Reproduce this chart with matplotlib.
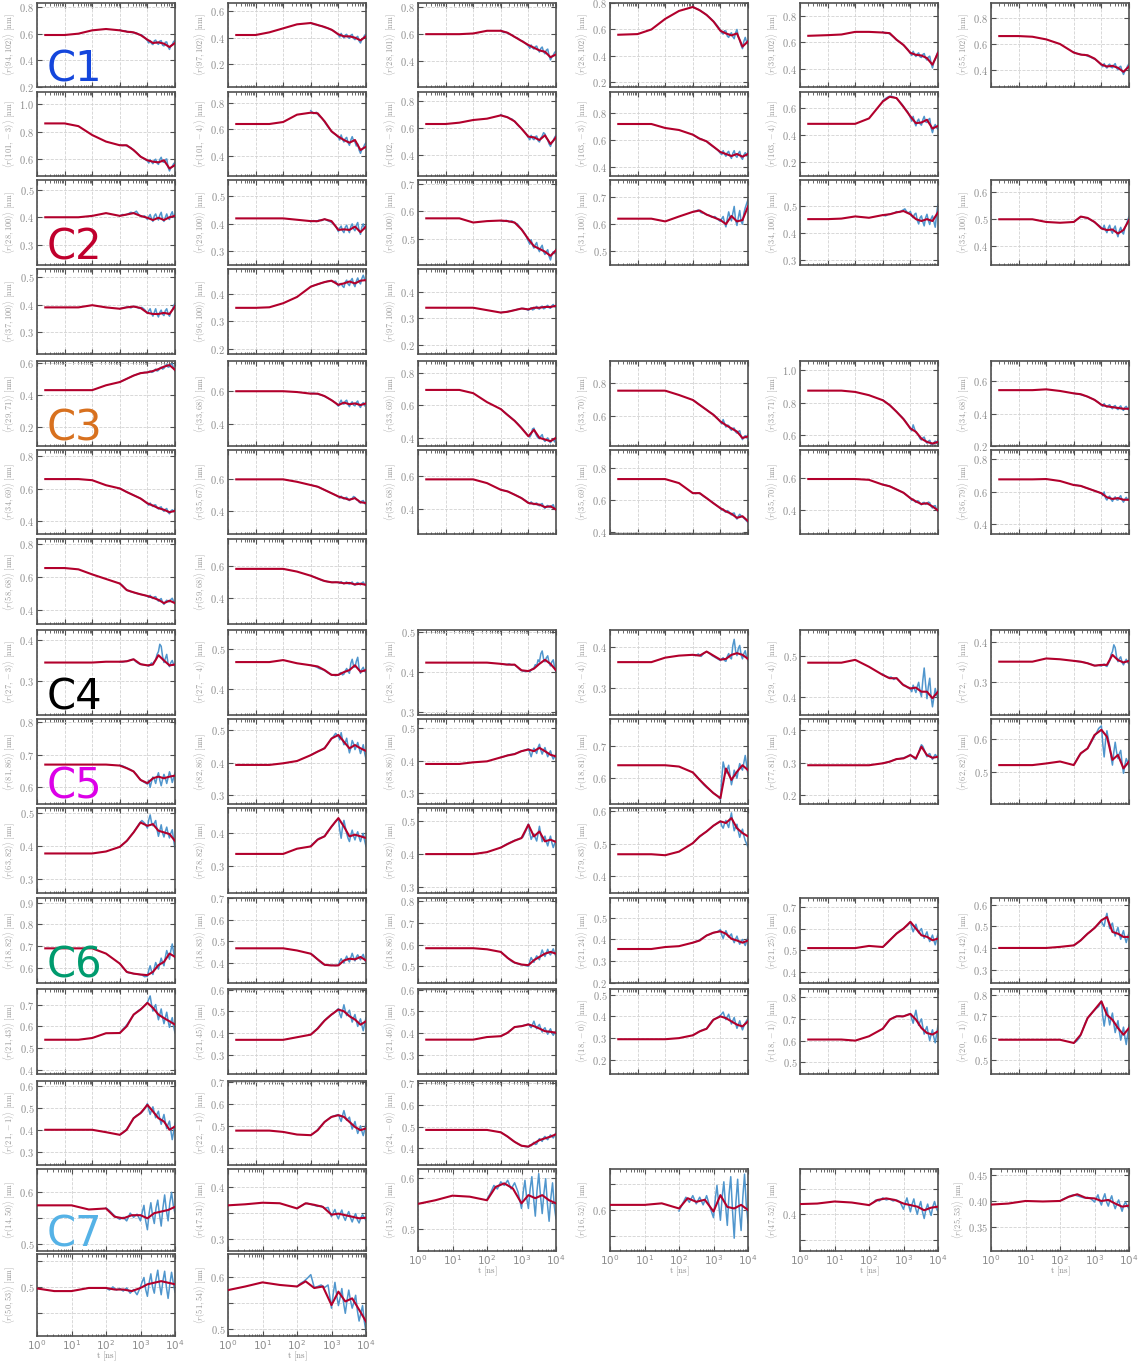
import numpy as np
import matplotlib
matplotlib.use('Agg')
import matplotlib.pyplot as plt
from matplotlib.ticker import LogLocator, MultipleLocator, FuncFormatter, NullFormatter

plt.rcParams['mathtext.fontset'] = 'cm'
plt.rcParams['font.family'] = 'DejaVu Sans'

# sample points, log10(t / ns)
LOGT_MEAN = [-0.7, 0, 0.5, 1, 1.5, 2, 2.25, 2.5, 2.75, 3, 3.2, 3.4, 3.6, 3.8, 4.0]
LOGT_RAW = [2.0, 2.1, 2.2, 2.3, 2.4, 2.5, 2.6, 2.7, 2.8, 2.9,
            3.0, 3.05, 3.1, 3.15, 3.2, 3.25, 3.3, 3.35, 3.4, 3.45, 3.5,
            3.55, 3.6, 3.65, 3.7, 3.75, 3.8, 3.85, 3.9, 3.95, 4.0]

# all distances in 1e-3 nm
# ---- C1 ----
C1_PAIRS = ['94,102', '97,102', '28,101', '28,102', '39,102', '55,102',
            '101,-3', '101,-4', '102,-3', '103,-3', '103,-4']
C1_YLIM = [(200, 830), (30, 660), (210, 830), (165, 800), (260, 900), (275, 910),
           (475, 1090), (250, 880), (240, 870), (330, 960), (100, 720)]
C1_MEAN = [
    [590, 590, 600, 625, 635, 625, 615, 610, 590, 555, 530, 535, 525, 500, 530],
    [420, 420, 440, 470, 500, 510, 495, 480, 460, 425, 410, 410, 400, 380, 410],
    [600, 600, 600, 605, 625, 625, 610, 580, 550, 520, 500, 480, 470, 430, 450],
    [560, 565, 600, 680, 740, 770, 745, 710, 660, 590, 570, 555, 570, 470, 510],
    [650, 655, 660, 680, 680, 675, 670, 620, 580, 520, 505, 500, 480, 430, 520],
    [660, 660, 655, 635, 600, 535, 520, 515, 490, 445, 430, 435, 420, 390, 430],
    [860, 860, 840, 775, 727, 700, 700, 665, 617, 590, 580, 575, 590, 530, 555],
    [640, 640, 640, 655, 710, 725, 720, 660, 585, 545, 520, 500, 520, 445, 470],
    [630, 630, 640, 660, 670, 695, 680, 650, 595, 535, 530, 510, 545, 480, 530],
    [720, 720, 720, 690, 675, 640, 610, 590, 550, 510, 495, 480, 495, 475, 495],
    [485, 485, 485, 485, 525, 650, 685, 675, 610, 540, 490, 495, 515, 450, 470],
]
C1_RAW = [
    [628, 620, 622, 610, 616, 605, 606, 592, 590, 570, 548, 530, 548, 526, 518, 546, 552, 528, 520, 544, 548, 514, 508, 536, 538, 502, 482, 508, 518, 541, 548],
    [512, 500, 498, 490, 488, 476, 474, 462, 455, 440, 420, 405, 432, 410, 398, 420, 425, 402, 395, 418, 425, 395, 385, 402, 410, 375, 360, 385, 395, 418, 425],
    [628, 612, 614, 600, 595, 578, 572, 555, 548, 530, 512, 495, 520, 500, 490, 508, 512, 485, 468, 495, 505, 470, 455, 482, 490, 440, 410, 432, 445, 465, 475],
    [772, 760, 752, 738, 725, 708, 692, 672, 650, 625, 595, 575, 565, 590, 588, 550, 540, 565, 575, 545, 530, 575, 600, 545, 520, 480, 455, 510, 540, 505, 490],
    [680, 668, 672, 655, 640, 618, 605, 588, 570, 548, 515, 500, 532, 508, 492, 512, 520, 490, 485, 508, 515, 480, 465, 488, 495, 440, 405, 450, 470, 505, 530],
    [540, 528, 525, 518, 520, 508, 502, 490, 482, 462, 440, 428, 452, 430, 418, 440, 448, 425, 420, 440, 452, 418, 405, 425, 432, 395, 370, 395, 410, 435, 450],
    [702, 698, 700, 690, 682, 662, 648, 628, 610, 598, 585, 570, 595, 578, 565, 590, 598, 570, 560, 595, 612, 580, 575, 595, 600, 540, 512, 535, 545, 565, 575],
    [740, 718, 728, 700, 685, 655, 625, 598, 575, 560, 540, 520, 558, 525, 505, 530, 540, 500, 480, 520, 545, 515, 505, 475, 490, 445, 420, 448, 460, 485, 500],
    [700, 688, 685, 672, 668, 648, 625, 605, 585, 560, 528, 512, 545, 522, 512, 535, 540, 505, 495, 525, 540, 565, 555, 525, 510, 480, 462, 490, 500, 530, 545],
    [642, 628, 612, 608, 598, 588, 570, 555, 540, 525, 500, 490, 520, 495, 478, 505, 515, 480, 462, 500, 520, 482, 470, 500, 515, 470, 455, 488, 505, 480, 515],
    [655, 672, 685, 690, 682, 672, 650, 628, 598, 575, 530, 505, 540, 495, 470, 505, 520, 485, 475, 515, 540, 500, 495, 515, 525, 455, 420, 462, 480, 455, 445],
]

# ---- C2 ----
C2_PAIRS = ['28,100', '29,100', '30,100', '31,100', '34,100', '35,100',
            '37,100', '96,100', '97,100']
C2_YLIM = [(227, 535), (250, 560), (407, 713), (450, 762), (280, 595), (330, 646),
           (220, 530), (180, 493), (168, 484)]
C2_MEAN = [
    [400, 400, 400, 405, 415, 405, 410, 415, 405, 398, 390, 398, 390, 400, 405],
    [420, 420, 420, 420, 415, 410, 410, 417, 410, 378, 380, 378, 390, 370, 390],
    [575, 575, 575, 560, 565, 567, 565, 560, 535, 500, 475, 465, 455, 440, 460],
    [620, 620, 620, 610, 628, 645, 650, 635, 625, 615, 600, 630, 610, 615, 665],
    [450, 450, 452, 460, 455, 465, 468, 475, 480, 468, 450, 443, 450, 443, 475],
    [500, 500, 500, 490, 487, 490, 510, 505, 490, 466, 460, 462, 447, 460, 497],
    [390, 390, 390, 398, 390, 385, 390, 393, 388, 370, 366, 366, 370, 366, 394],
    [350, 350, 352, 367, 390, 428, 437, 445, 450, 435, 440, 447, 440, 450, 452],
    [340, 340, 340, 340, 331, 322, 325, 331, 337, 334, 340, 340, 343, 343, 347],
]
C2_RAW = [
    [405, 410, 408, 412, 418, 415, 422, 408, 402, 405, 392, 402, 410, 395, 385, 405, 412, 398, 390, 408, 418, 392, 385, 400, 412, 396, 392, 410, 420, 400, 410],
    [408, 412, 408, 414, 412, 418, 412, 408, 402, 392, 372, 385, 392, 375, 368, 388, 395, 378, 368, 390, 400, 382, 375, 395, 405, 375, 362, 388, 400, 382, 395],
    [566, 564, 568, 562, 566, 558, 555, 542, 530, 515, 492, 482, 498, 478, 468, 480, 488, 465, 455, 470, 478, 455, 445, 455, 462, 438, 425, 445, 455, 448, 465],
    [645, 648, 652, 642, 640, 635, 632, 625, 628, 618, 610, 620, 628, 605, 590, 620, 645, 625, 612, 640, 665, 615, 595, 625, 650, 610, 600, 640, 660, 675, 690],
    [465, 462, 468, 470, 472, 478, 475, 482, 488, 472, 478, 462, 455, 468, 472, 445, 432, 455, 462, 440, 425, 455, 468, 445, 430, 452, 462, 440, 420, 470, 505],
    [490, 498, 505, 510, 506, 504, 498, 492, 485, 478, 470, 462, 478, 460, 450, 468, 478, 458, 448, 465, 475, 450, 435, 458, 470, 452, 445, 468, 480, 495, 510],
    [385, 388, 390, 392, 388, 394, 392, 386, 390, 382, 368, 378, 385, 368, 358, 372, 385, 365, 355, 372, 380, 365, 360, 378, 385, 366, 358, 372, 380, 395, 405],
    [428, 432, 435, 438, 442, 444, 448, 450, 446, 448, 430, 438, 440, 430, 425, 445, 452, 438, 432, 450, 458, 438, 428, 448, 460, 445, 438, 458, 470, 455, 448],
    [322, 324, 325, 327, 329, 331, 334, 336, 338, 336, 330, 336, 340, 332, 334, 340, 345, 337, 335, 343, 346, 336, 338, 345, 349, 340, 338, 347, 352, 344, 342],
]

# ---- C3 ----
C3_PAIRS = ['29,71', '33,68', '33,69', '33,70', '33,71', '34,68',
            '34,69', '35,67', '35,68', '35,69', '35,70', '36,79',
            '58,68', '59,68']
C3_YLIM = [(85, 610), (263, 786), (350, 873), (410, 940), (535, 1057), (200, 725),
           (320, 840), (260, 775), (245, 760), (390, 910), (254, 775), (340, 855),
           (312, 833), (235, 767)]
C3_MEAN = [
    [430, 430, 430, 430, 460, 480, 500, 520, 535, 540, 548, 560, 575, 585, 555],
    [600, 600, 600, 600, 595, 585, 585, 570, 545, 515, 530, 520, 525, 515, 525],
    [695, 695, 695, 675, 620, 577, 540, 505, 460, 410, 450, 400, 390, 380, 400],
    [755, 755, 755, 755, 728, 697, 666, 635, 604, 563, 540, 520, 500, 460, 470],
    [875, 875, 875, 867, 847, 816, 786, 745, 700, 643, 622, 580, 560, 550, 560],
    [545, 545, 545, 550, 540, 525, 520, 505, 485, 455, 445, 440, 435, 430, 430],
    [660, 660, 660, 653, 622, 602, 580, 560, 540, 510, 496, 480, 470, 455, 463],
    [595, 595, 595, 595, 580, 560, 550, 530, 510, 490, 480, 470, 480, 455, 450],
    [580, 580, 580, 580, 557, 516, 506, 486, 465, 435, 430, 425, 410, 415, 395],
    [730, 730, 730, 730, 705, 643, 643, 612, 580, 550, 530, 515, 490, 500, 470],
    [595, 595, 595, 595, 590, 560, 550, 530, 510, 476, 456, 440, 445, 425, 400],
    [675, 675, 675, 677, 665, 640, 635, 620, 605, 590, 565, 555, 560, 550, 550],
    [655, 655, 647, 616, 588, 560, 520, 506, 494, 484, 473, 460, 440, 455, 440],
    [580, 580, 580, 580, 563, 537, 520, 504, 496, 496, 490, 492, 483, 487, 480],
]
C3_RAW = [
    [480, 488, 496, 504, 512, 520, 526, 532, 536, 540, 538, 545, 548, 540, 542, 552, 560, 548, 552, 565, 572, 560, 565, 580, 590, 572, 575, 590, 592, 565, 548],
    [586, 588, 584, 580, 576, 568, 560, 550, 540, 528, 508, 530, 545, 525, 520, 538, 545, 518, 505, 525, 535, 515, 510, 530, 540, 512, 500, 520, 530, 510, 535],
    [578, 562, 548, 535, 520, 505, 490, 472, 452, 432, 412, 405, 420, 455, 460, 430, 412, 400, 395, 410, 420, 390, 378, 392, 400, 380, 370, 385, 392, 375, 410],
    [698, 686, 672, 660, 648, 636, 622, 612, 598, 582, 560, 548, 575, 550, 528, 540, 538, 518, 508, 520, 522, 498, 490, 500, 505, 468, 450, 465, 475, 460, 485],
    [818, 805, 792, 778, 762, 745, 728, 712, 692, 668, 640, 628, 665, 640, 618, 610, 598, 580, 572, 585, 590, 565, 552, 565, 570, 548, 540, 555, 565, 550, 575],
    [525, 522, 520, 514, 510, 504, 496, 490, 480, 468, 452, 445, 462, 448, 440, 450, 455, 438, 430, 445, 450, 432, 425, 440, 448, 428, 420, 438, 445, 430, 420],
    [602, 594, 584, 576, 568, 560, 552, 544, 535, 522, 508, 498, 512, 498, 490, 500, 500, 482, 475, 485, 488, 470, 460, 472, 478, 455, 445, 462, 470, 458, 475],
    [560, 556, 552, 546, 538, 530, 522, 514, 506, 498, 488, 480, 492, 480, 475, 482, 485, 470, 465, 475, 478, 490, 485, 470, 468, 455, 450, 462, 465, 448, 440],
    [518, 512, 508, 502, 494, 486, 478, 470, 460, 450, 438, 430, 442, 432, 425, 432, 435, 422, 418, 428, 432, 412, 402, 415, 420, 410, 408, 418, 425, 400, 390],
    [645, 640, 645, 635, 622, 612, 600, 588, 575, 562, 548, 538, 545, 530, 525, 535, 530, 515, 508, 518, 520, 495, 482, 500, 512, 502, 495, 488, 480, 470, 462],
    [562, 558, 552, 546, 538, 530, 522, 514, 504, 490, 475, 462, 470, 458, 450, 460, 458, 442, 435, 448, 450, 438, 440, 452, 448, 425, 415, 428, 430, 405, 392],
    [642, 640, 636, 632, 625, 620, 614, 608, 602, 596, 588, 575, 598, 560, 548, 565, 572, 552, 540, 558, 568, 550, 548, 565, 575, 548, 535, 552, 565, 550, 545],
    [560, 548, 528, 516, 510, 506, 500, 496, 492, 488, 482, 475, 488, 475, 468, 478, 480, 462, 452, 462, 468, 445, 432, 448, 458, 450, 448, 462, 470, 450, 435],
    [538, 530, 524, 516, 508, 504, 500, 497, 495, 498, 494, 490, 500, 492, 486, 494, 498, 488, 485, 492, 498, 482, 478, 490, 495, 485, 480, 492, 498, 482, 475],
]

# ---- C4 ----
C4_PAIRS = ['27,-3', '27,-4', '28,-3', '28,-4', '29,-4', '72,-4']
C4_YLIM = [(216, 425), (336, 548), (293, 504), (234, 443), (355, 563), (217, 429)]
C4_MEAN = [
    [345, 345, 345, 345, 347, 347, 348, 353, 341, 338, 340, 363, 350, 338, 340],
    [468, 468, 468, 473, 465, 460, 457, 448, 436, 436, 443, 448, 460, 444, 448],
    [423, 423, 423, 423, 423, 420, 418, 418, 404, 402, 408, 420, 430, 420, 404],
    [364, 364, 364, 375, 380, 382, 380, 390, 380, 370, 372, 382, 386, 382, 372],
    [483, 483, 483, 490, 473, 453, 445, 445, 428, 420, 422, 412, 412, 396, 412],
    [350, 350, 350, 358, 356, 352, 350, 346, 340, 342, 342, 367, 354, 348, 352],
]
C4_RAW = [
    [347, 346, 348, 349, 352, 353, 346, 342, 340, 339, 338, 336, 340, 344, 342, 348, 352, 365, 372, 390, 385, 360, 345, 355, 365, 342, 335, 345, 350, 340, 336],
    [460, 458, 456, 452, 450, 447, 442, 438, 436, 434, 436, 440, 442, 436, 438, 446, 452, 444, 440, 465, 475, 458, 455, 470, 480, 452, 440, 450, 455, 445, 442],
    [420, 419, 418, 420, 417, 418, 412, 405, 402, 401, 403, 400, 405, 408, 410, 418, 415, 430, 425, 445, 452, 432, 425, 435, 440, 422, 415, 425, 430, 410, 400],
    [382, 380, 384, 378, 386, 390, 386, 380, 376, 372, 368, 372, 375, 368, 366, 378, 385, 375, 372, 405, 420, 392, 380, 398, 405, 382, 372, 385, 392, 375, 368],
    [455, 450, 446, 448, 442, 446, 438, 430, 428, 422, 418, 412, 428, 418, 410, 425, 435, 412, 400, 440, 470, 430, 395, 425, 445, 400, 375, 398, 420, 405, 395],
    [352, 351, 350, 349, 348, 346, 344, 342, 340, 341, 339, 342, 344, 340, 338, 345, 352, 368, 375, 392, 385, 362, 350, 358, 362, 348, 342, 350, 356, 348, 345],
]

# ---- C5 ----
C5_PAIRS = ['81,86', '82,86', '83,86', '18,81', '77,81', '62,82',
            '63,82', '78,82', '79,82', '79,83']
C5_YLIM = [(549, 810), (273, 534), (268, 527), (521, 782), (173, 434), (401, 661),
           (258, 516), (217, 478), (281, 541), (349, 610)]
C5_MEAN = [
    [670, 670, 670, 670, 670, 667, 659, 649, 623, 613, 628, 633, 628, 633, 636],
    [393, 393, 393, 398, 405, 423, 434, 444, 474, 485, 464, 444, 454, 444, 436],
    [390, 390, 390, 395, 398, 410, 416, 420, 429, 434, 429, 439, 429, 418, 413],
    [640, 640, 640, 640, 636, 618, 595, 574, 554, 539, 630, 595, 620, 640, 625],
    [292, 292, 292, 292, 292, 298, 303, 311, 313, 323, 313, 349, 323, 315, 318],
    [520, 520, 520, 525, 531, 520, 556, 571, 612, 628, 607, 536, 551, 510, 531],
    [378, 378, 378, 378, 384, 398, 416, 442, 472, 462, 467, 447, 442, 437, 416],
    [337, 337, 337, 337, 353, 360, 381, 391, 421, 447, 421, 391, 396, 391, 386],
    [400, 400, 400, 400, 406, 420, 431, 441, 449, 490, 454, 469, 439, 444, 437],
    [468, 468, 468, 465, 476, 502, 523, 538, 556, 569, 564, 579, 548, 533, 523],
]
C5_RAW = [
    [668, 666, 662, 658, 654, 648, 640, 628, 620, 615, 610, 622, 600, 618, 632, 625, 612, 632, 645, 622, 605, 625, 640, 628, 612, 630, 648, 635, 615, 630, 645],
    [423, 428, 432, 436, 440, 446, 455, 468, 478, 490, 480, 470, 492, 470, 455, 462, 475, 450, 430, 445, 468, 458, 440, 450, 462, 445, 428, 440, 455, 430, 412],
    [410, 412, 415, 418, 419, 421, 424, 428, 430, 433, 436, 425, 412, 428, 438, 430, 422, 440, 450, 432, 420, 432, 440, 425, 412, 422, 430, 415, 405, 412, 420],
    [618, 610, 600, 590, 580, 572, 565, 558, 552, 545, 535, 600, 650, 632, 615, 628, 640, 608, 580, 600, 625, 612, 600, 625, 645, 632, 625, 648, 670, 640, 610],
    [298, 300, 302, 305, 308, 311, 312, 314, 316, 320, 325, 320, 318, 312, 310, 322, 330, 345, 355, 350, 340, 328, 318, 325, 328, 318, 310, 318, 325, 320, 315],
    [522, 535, 550, 558, 565, 572, 585, 600, 615, 632, 640, 585, 545, 595, 625, 600, 580, 545, 520, 560, 590, 560, 540, 555, 565, 525, 495, 520, 540, 530, 515],
    [398, 405, 412, 420, 432, 442, 455, 468, 478, 470, 455, 480, 495, 472, 462, 470, 478, 450, 430, 448, 465, 440, 428, 445, 458, 438, 425, 440, 450, 420, 392],
    [362, 370, 378, 385, 388, 392, 405, 415, 425, 438, 445, 410, 385, 420, 440, 420, 400, 385, 375, 395, 410, 392, 380, 395, 405, 388, 375, 390, 400, 378, 360],
    [420, 425, 430, 434, 438, 442, 445, 448, 452, 470, 492, 465, 445, 455, 462, 450, 440, 462, 485, 460, 438, 448, 455, 438, 425, 442, 455, 435, 420, 432, 440],
    [502, 510, 518, 525, 532, 538, 545, 552, 558, 565, 570, 555, 548, 562, 572, 560, 550, 575, 595, 565, 540, 552, 560, 538, 520, 535, 545, 525, 510, 500, 490],
]

# ---- C6 ----
C6_PAIRS = ['18,82', '18,83', '18,86', '21,24', '21,25', '21,42',
            '21,43', '21,45', '21,46', '18,-0', '18,-1', '20,-1',
            '21,-1', '22,-1', '24,-0']
C6_YLIM = [(531, 921), (308, 700), (423, 814), (200, 590), (349, 741), (238, 631),
           (380, 772), (210, 603), (212, 603), (135, 526), (446, 838), (434, 826),
           (239, 623), (320, 706), (323, 711)]
C6_MEAN = [
    [690, 690, 690, 690, 666, 620, 582, 574, 570, 567, 582, 613, 628, 666, 651],
    [468, 468, 468, 468, 458, 443, 417, 392, 389, 389, 412, 420, 417, 428, 412],
    [583, 583, 583, 583, 578, 566, 538, 517, 508, 505, 528, 543, 558, 566, 558],
    [356, 356, 356, 365, 369, 385, 395, 418, 431, 437, 426, 403, 395, 385, 395],
    [510, 510, 510, 510, 520, 515, 546, 577, 600, 631, 600, 569, 562, 546, 554],
    [400, 400, 400, 400, 405, 412, 435, 466, 492, 528, 543, 474, 466, 451, 451],
    [538, 538, 538, 546, 568, 569, 600, 654, 677, 708, 685, 654, 638, 623, 608],
    [368, 368, 368, 368, 380, 392, 420, 457, 485, 508, 500, 477, 462, 438, 454],
    [370, 370, 370, 370, 382, 386, 402, 428, 432, 440, 432, 421, 409, 406, 402],
    [295, 295, 295, 295, 300, 313, 331, 343, 385, 400, 392, 377, 362, 354, 377],
    [605, 605, 605, 600, 620, 655, 697, 712, 712, 723, 697, 658, 635, 628, 643],
    [592, 592, 592, 592, 592, 577, 615, 692, 730, 769, 707, 684, 646, 615, 646],
    [400, 400, 400, 400, 389, 377, 400, 453, 476, 514, 484, 453, 438, 400, 415],
    [478, 478, 478, 472, 460, 457, 480, 518, 541, 549, 541, 518, 495, 480, 488],
    [485, 485, 485, 485, 485, 474, 454, 430, 412, 408, 423, 438, 446, 454, 465],
]
C6_RAW = [
    [620, 604, 590, 578, 576, 574, 572, 570, 568, 560, 562, 590, 610, 585, 570, 600, 625, 608, 595, 620, 645, 625, 610, 650, 680, 660, 640, 680, 710, 670, 640],
    [443, 435, 422, 410, 398, 392, 390, 389, 390, 388, 392, 408, 420, 408, 400, 418, 432, 415, 405, 425, 445, 425, 410, 428, 438, 425, 415, 430, 440, 418, 400],
    [566, 555, 545, 532, 522, 516, 512, 508, 506, 504, 500, 522, 540, 528, 518, 535, 548, 538, 530, 555, 575, 558, 545, 562, 578, 560, 552, 568, 580, 560, 545],
    [385, 390, 394, 402, 410, 418, 422, 428, 432, 436, 445, 420, 405, 425, 440, 425, 410, 418, 425, 400, 385, 402, 415, 395, 378, 392, 400, 385, 372, 392, 410],
    [515, 525, 538, 552, 565, 578, 588, 596, 605, 615, 632, 605, 585, 602, 620, 598, 580, 592, 600, 575, 555, 572, 585, 558, 540, 555, 570, 545, 525, 552, 575],
    [412, 420, 430, 442, 455, 466, 475, 488, 498, 510, 525, 510, 500, 535, 560, 520, 490, 505, 515, 480, 455, 478, 495, 465, 440, 462, 480, 448, 425, 450, 470],
    [570, 585, 598, 615, 635, 652, 665, 675, 682, 695, 710, 725, 740, 700, 670, 688, 700, 660, 630, 655, 680, 640, 612, 640, 665, 625, 595, 620, 640, 600, 570],
    [392, 405, 415, 430, 445, 458, 470, 480, 488, 500, 512, 488, 470, 502, 530, 502, 480, 495, 505, 475, 450, 470, 485, 455, 430, 450, 465, 435, 410, 442, 470],
    [386, 392, 398, 408, 418, 428, 430, 432, 434, 438, 442, 432, 425, 440, 455, 435, 420, 432, 440, 420, 405, 418, 425, 408, 395, 410, 420, 402, 390, 402, 410],
    [313, 320, 328, 335, 340, 344, 362, 380, 388, 395, 405, 412, 420, 400, 385, 398, 410, 385, 365, 380, 395, 368, 345, 362, 380, 355, 338, 355, 370, 380, 390],
    [655, 670, 688, 700, 708, 712, 715, 710, 715, 720, 725, 700, 680, 712, 740, 702, 670, 688, 700, 662, 630, 650, 665, 630, 600, 628, 650, 615, 590, 630, 670],
    [577, 585, 600, 630, 665, 692, 708, 722, 735, 745, 770, 700, 655, 700, 740, 698, 660, 690, 715, 665, 625, 655, 680, 630, 590, 620, 650, 605, 570, 615, 660],
    [377, 385, 395, 412, 432, 452, 465, 472, 480, 495, 520, 492, 470, 490, 505, 478, 455, 472, 485, 450, 425, 448, 470, 435, 405, 425, 440, 395, 355, 392, 430],
    [457, 465, 475, 490, 505, 518, 528, 538, 544, 548, 552, 535, 520, 548, 570, 545, 525, 532, 540, 510, 485, 502, 520, 490, 465, 482, 500, 475, 455, 482, 510],
    [474, 466, 458, 448, 438, 430, 422, 415, 410, 408, 406, 415, 412, 420, 428, 418, 420, 435, 445, 438, 432, 448, 455, 445, 440, 452, 462, 455, 448, 460, 472],
]

# ---- C7 ----
C7_PAIRS = ['14,50', '47,51', '15,52', '16,52', '47,52', '25,53', '50,53', '51,54']
C7_YLIM = [(487, 645), (276, 434), (457, 617), (520, 680), (329, 488), (303, 462),
           (406, 563), (486, 645)]
C7_DEC = [1, 1, 1, 1, 1, 2, 1, 1]
C7_MEAN = [
    [575, 575, 575, 575, 567, 569, 553, 550, 556, 556, 550, 560, 563, 566, 572],
    [364, 364, 366, 369, 368, 358, 368, 365, 361, 346, 348, 345, 342, 339, 340],
    [549, 549, 556, 565, 563, 556, 582, 589, 579, 550, 566, 560, 566, 556, 550],
    [610, 610, 610, 610, 613, 603, 623, 616, 620, 597, 629, 606, 603, 610, 600],
    [420, 420, 421, 425, 423, 418, 428, 431, 428, 421, 418, 415, 408, 413, 415],
    [393, 393, 395, 400, 399, 400, 408, 413, 406, 405, 400, 402, 395, 389, 391],
    [497, 497, 492, 492, 498, 498, 495, 495, 492, 498, 505, 508, 511, 508, 505],
    [575, 575, 582, 590, 585, 582, 592, 579, 582, 546, 572, 553, 559, 537, 514],
]
C7_RAW = [
    [570, 565, 558, 552, 548, 552, 545, 560, 552, 558, 545, 562, 575, 545, 528, 560, 580, 555, 540, 570, 585, 558, 535, 570, 595, 565, 545, 580, 600, 575, 560],
    [358, 362, 366, 368, 366, 364, 362, 363, 358, 360, 342, 350, 356, 345, 338, 348, 355, 342, 335, 345, 352, 340, 332, 342, 348, 336, 330, 340, 346, 340, 335],
    [558, 570, 585, 578, 592, 585, 595, 578, 590, 572, 540, 572, 595, 560, 540, 578, 602, 560, 525, 575, 608, 565, 530, 570, 598, 550, 515, 560, 590, 545, 520],
    [598, 612, 625, 615, 628, 612, 625, 610, 628, 605, 585, 620, 648, 612, 580, 625, 655, 608, 570, 630, 665, 600, 545, 615, 660, 598, 560, 625, 670, 610, 575],
    [418, 422, 428, 426, 432, 428, 430, 426, 428, 424, 410, 422, 432, 418, 405, 420, 430, 412, 400, 415, 425, 405, 392, 410, 420, 408, 398, 415, 425, 412, 405],
    [400, 404, 407, 410, 412, 410, 408, 406, 407, 404, 398, 405, 412, 400, 392, 405, 414, 398, 390, 402, 410, 395, 385, 395, 402, 390, 380, 392, 398, 390, 385],
    [498, 494, 500, 494, 497, 492, 498, 488, 495, 485, 500, 510, 518, 495, 482, 508, 525, 500, 488, 515, 532, 505, 485, 512, 530, 500, 478, 505, 528, 508, 490],
    [582, 588, 592, 598, 605, 580, 582, 585, 580, 585, 540, 568, 590, 565, 545, 560, 578, 550, 530, 555, 575, 555, 540, 552, 565, 535, 515, 530, 545, 515, 495],
]

# group table: name, colour, first row, pairs, mean, raw, ylim, tick step, decimals, xmin
GROUPS = [
    ('C1', '#1446dc', 0, C1_PAIRS, C1_MEAN, C1_RAW, C1_YLIM, 200, [1] * 11, 0.1),
    ('C2', '#c0002d', 2, C2_PAIRS, C2_MEAN, C2_RAW, C2_YLIM, 100, [1] * 9, 0.1),
    ('C3', '#d8711f', 4, C3_PAIRS, C3_MEAN, C3_RAW, C3_YLIM, 200, [1] * 14, 0.1),
    ('C4', '#000000', 7, C4_PAIRS, C4_MEAN, C4_RAW, C4_YLIM, 100, [1] * 6, 0.1),
    ('C5', '#dc00e8', 8, C5_PAIRS, C5_MEAN, C5_RAW, C5_YLIM, 100, [1] * 10, 0.1),
    ('C6', '#009b6e', 10, C6_PAIRS, C6_MEAN, C6_RAW, C6_YLIM, 100, [1] * 15, 0.1),
    ('C7', '#55b2e6', 13, C7_PAIRS, C7_MEAN, C7_RAW, C7_YLIM, 50, C7_DEC, 1.0),
]

# layout in pixels
W, H = 1139, 1362
COL_LEFT = [37, 228, 418, 610, 800, 991]
AX_W = 138
ROW_TOP = [3, 92, 180, 269, 361, 450, 539, 630, 719, 808, 898, 989, 1081, 1169, 1254]
ROW_BOT = [87, 176, 265, 354, 446, 534, 624, 715, 804, 893, 983, 1074, 1165, 1251, 1336]

BLUE = '#5096cd'
RED = '#b2002c'
GRAY_TXT = '#8c8c8c'
SPINE = '#505050'


def tick_fmt(dec):
    def f(v, pos):
        scaled = v * 10 ** dec
        if abs(scaled - round(scaled)) > 1e-6:
            return ''
        return '$%.*f$' % (dec, v)
    return FuncFormatter(f)


fig = plt.figure(figsize=(W / 100, H / 100), dpi=100)

t_mean = 10 ** np.array(LOGT_MEAN)
t_raw = 10 ** np.array(LOGT_RAW)

for name, color, row0, pairs, mean, raw, ylim, step, decs, xmin in GROUPS:
    n = len(pairs)
    for k in range(n):
        r = row0 + k // 6
        c = k % 6
        ax = fig.add_axes([COL_LEFT[c] / W, 1 - ROW_BOT[r] / H, AX_W / W,
                           (ROW_BOT[r] - ROW_TOP[r]) / H])
        ax.plot(t_raw, np.array(raw[k]) / 1000, color=BLUE, lw=1.1, zorder=2)
        ax.plot(t_mean, np.array(mean[k]) / 1000, color=RED, lw=1.5, zorder=3)
        ax.set_xscale('log')
        ax.set_xlim(xmin, 1e4)
        ax.set_ylim(ylim[k][0] / 1000, ylim[k][1] / 1000)
        ax.xaxis.set_major_locator(LogLocator(base=10, numticks=10))
        ax.xaxis.set_minor_locator(LogLocator(base=10, subs=np.arange(2, 10), numticks=20))
        ax.xaxis.set_minor_formatter(NullFormatter())
        ax.yaxis.set_major_locator(MultipleLocator(step / 1000))
        ax.yaxis.set_major_formatter(tick_fmt(decs[k]))
        ax.set_axisbelow(True)
        ax.grid(True, which='major', ls='--', lw=0.6, color='#d2d2d2')
        ax.tick_params(which='both', direction='in', top=True, right=True,
                       color=SPINE, labelcolor=GRAY_TXT, labelsize=7.5, pad=2)
        ax.tick_params(axis='x', pad=1.5)
        ax.tick_params(which='major', length=3.5, width=0.8)
        ax.tick_params(which='minor', length=1.8, width=0.6)
        for sp in ax.spines.values():
            sp.set_color(SPINE)
            sp.set_linewidth(1.2)
        ax.set_ylabel(r'$\langle r(%s)\rangle\ [\mathrm{nm}]$' % pairs[k],
                      fontsize=6, color='#9a9a9a', labelpad=1)
        bottom = (name == 'C7') and (k + 6 >= n)
        if bottom:
            ax.set_xlabel(r'$\mathrm{t}\ [\mathrm{ns}]$', fontsize=6.5,
                          color=GRAY_TXT, labelpad=-1.5)
        else:
            ax.tick_params(labelbottom=False)
        if k == 0:
            ax.text(0.07, 0.06, name, transform=ax.transAxes, fontsize=30,
                    color=color, ha='left', va='baseline', zorder=5)

fig.savefig('out.png', dpi=100)
